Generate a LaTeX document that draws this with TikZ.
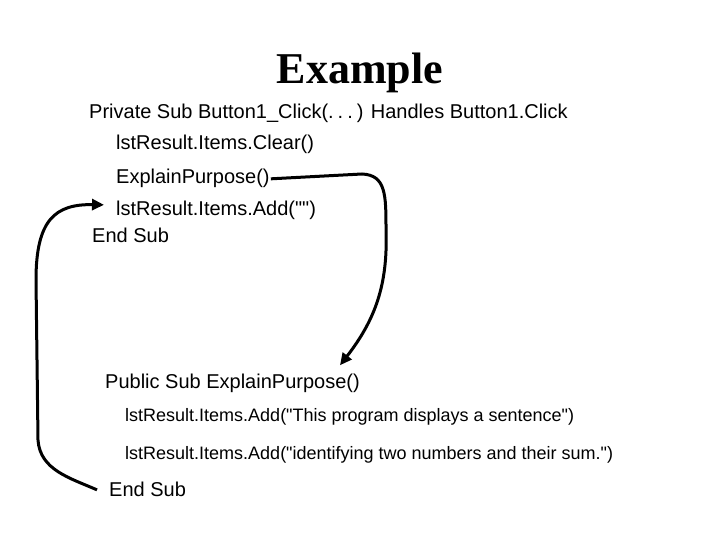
\documentclass[tikz,border=0pt]{standalone}
\usepackage{fontspec}
\setmainfont{Liberation Sans}
\newfontfamily\titlefont{Liberation Serif}
\usetikzlibrary{arrows.meta}

\begin{document}
\begin{tikzpicture}[x=1pt,y=-1pt,
    code/.style={anchor=base west,inner sep=0pt,font=\fontsize{20}{24}\selectfont},
    smallcode/.style={anchor=base west,inner sep=0pt,font=\fontsize{18}{22}\selectfont},
    flow/.style={line width=\Thickness,-{Triangle[length=12pt,width=11pt]}},
]
    \def\Thickness{3pt}
    \def\q{\textquotedbl}
    \useasboundingbox (0,0) rectangle (720,540);
    % 标题
    \node[anchor=base,inner sep=0pt,font=\titlefont\bfseries\fontsize{44}{50}\selectfont] (title) at (360,84) {Example};
    % 第一个过程
    \node[code] (click) at (89,119) {Private Sub Button1\_Click(.\hspace{4pt}.\hspace{4pt}.\hspace{4pt}) Handles Button1.Click};
    \node[code] (clear) at (116,150) {lstResult.Items.Clear()};
    \node[code] (call) at (116,184) {ExplainPurpose()};
    \node[code] (blank) at (116,215) {lstResult.Items.Add(\q\q)};
    \node[code] (endA) at (92,243) {End Sub};
    % 第二个过程
    \node[code] (pub) at (105,388) {Public Sub ExplainPurpose()};
    \node[smallcode] (lineA) at (125,421) {lstResult.Items.Add(\q This program displays a sentence\q)};
    \node[smallcode] (lineB) at (125,459) {lstResult.Items.Add(\q identifying two numbers and their sum.\q)};
    \node[code] (endB) at (109,496) {End Sub};
    % 调用与返回
    \draw[flow] ([xshift=1pt]call.east) -- (362,174) .. controls (386,175) and (386,195) .. (386,230)
        .. controls (388,285) and (375,320) .. ([xshift=-20pt,yshift=8pt]pub.north east);
    \draw[flow] ([xshift=-12pt,yshift=-1pt]endB.west) .. controls (70,478) and (40,470) .. (38,440)
        -- (36,280) .. controls (36,220) and (55,204) .. ([xshift=-12pt,yshift=5pt]blank.west);
\end{tikzpicture}
\end{document}
